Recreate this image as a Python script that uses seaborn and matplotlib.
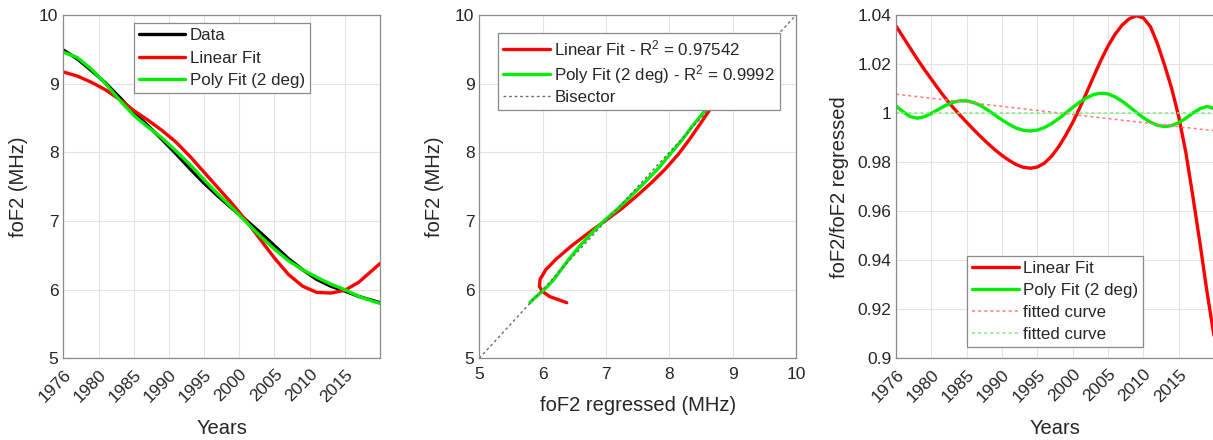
import matplotlib
matplotlib.use("Agg")
import matplotlib.pyplot as plt
import seaborn as sns
import pandas as pd
from matplotlib.ticker import FuncFormatter

# ---------------- data ----------------
years = [1975, 1977, 1979, 1981, 1983, 1985, 1987, 1989, 1991, 1993, 1995, 1997,
         1999, 2001, 2003, 2005, 2007, 2009, 2011, 2013, 2015, 2017, 2019, 2020]
fof2_data = [9.49, 9.36, 9.19, 9.01, 8.80, 8.58, 8.39, 8.19, 7.98, 7.76, 7.55, 7.36,
             7.18, 7.01, 6.83, 6.64, 6.45, 6.29, 6.15, 6.05, 5.98, 5.90, 5.84, 5.81]
fof2_linear = [9.17, 9.11, 9.02, 8.91, 8.77, 8.61, 8.47, 8.32, 8.15, 7.94, 7.71, 7.48,
               7.25, 7.00, 6.73, 6.46, 6.22, 6.05, 5.96, 5.95, 5.99, 6.11, 6.29, 6.38]
fof2_poly = [9.46, 9.38, 9.21, 9.00, 8.76, 8.54, 8.37, 8.21, 8.02, 7.82, 7.60, 7.39,
             7.19, 6.98, 6.78, 6.59, 6.42, 6.29, 6.18, 6.08, 6.00, 5.90, 5.83, 5.80]

ratio_years = list(range(1975, 2021))
ratio_linear = [1.0355, 1.0310, 1.0265, 1.0220, 1.0178, 1.0138, 1.0098, 1.0060, 1.0025, 0.9993,
                0.9962, 0.9932, 0.9903, 0.9876, 0.9850, 0.9827, 0.9807, 0.9790, 0.9779, 0.9775,
                0.9780, 0.9796, 0.9824, 0.9862, 0.9909, 0.9962, 1.0022, 1.0086, 1.0152, 1.0216,
                1.0274, 1.0322, 1.0359, 1.0385, 1.0397, 1.0388, 1.0352, 1.0282, 1.0195, 1.0100,
                0.9985, 0.9840, 0.9660, 0.9470, 0.9270, 0.9090]
ratio_poly = [1.0029, 1.0005, 0.9986, 0.9979, 0.9985, 0.9999, 1.0015, 1.0031, 1.0043, 1.0050,
              1.0050, 1.0043, 1.0030, 1.0012, 0.9992, 0.9972, 0.9954, 0.9939, 0.9930, 0.9927,
              0.9931, 0.9941, 0.9957, 0.9977, 1.0000, 1.0023, 1.0045, 1.0063, 1.0076, 1.0081,
              1.0078, 1.0066, 1.0048, 1.0026, 1.0003, 0.9981, 0.9963, 0.9950, 0.9945, 0.9949,
              0.9961, 0.9979, 1.0000, 1.0018, 1.0027, 1.0019]
fit_years = [1975, 2020]
fit_linear = [1.0077, 0.9928]
fit_poly = [1.0, 1.0]

bisector = [5, 10]

year_ticks = [1975, 1980, 1985, 1990, 1995, 2000, 2005, 2010, 2015]
year_tick_labels = ['1976', '1980', '1985', '1990', '1995', '2000', '2005', '2010', '2015']
mhz_ticks = [5, 6, 7, 8, 9, 10]
ratio_ticks = [0.9, 0.92, 0.94, 0.96, 0.98, 1.0, 1.02, 1.04]

r2_linear = '0.97542'
r2_poly = '0.9992'

# ---------------- style ----------------
sns.set_style("whitegrid", {
    "grid.color": "#e3e3e3",
    "axes.edgecolor": "#8a8a8a",
    "xtick.direction": "in",
    "ytick.direction": "in",
})
plt.rcParams['font.family'] = ['Liberation Sans', 'DejaVu Sans']
plt.rcParams['mathtext.default'] = 'regular'
plt.rcParams['xtick.color'] = '#8a8a8a'
plt.rcParams['ytick.color'] = '#8a8a8a'
plt.rcParams['xtick.labelcolor'] = '#262626'
plt.rcParams['ytick.labelcolor'] = '#262626'

RED = '#ff0000'
GREEN = '#00ee00'
LW = 2.4
TICK_FS = 12.5
LABEL_FS = 14.5
LEG_FS = 12.2
TXT = '#262626'

fig = plt.figure(figsize=(12.13, 4.40), dpi=100)
ax1 = fig.add_axes([0.0522, 0.1857, 0.2611, 0.7802])
ax2 = fig.add_axes([0.3951, 0.1857, 0.2611, 0.7802])
ax3 = fig.add_axes([0.7387, 0.1857, 0.2622, 0.7802])

df1 = pd.DataFrame({'year': years, 'data': fof2_data, 'lin': fof2_linear, 'poly': fof2_poly})
df3 = pd.DataFrame({'year': ratio_years, 'lin': ratio_linear, 'poly': ratio_poly})
dff = pd.DataFrame({'year': fit_years, 'lin': fit_linear, 'poly': fit_poly})


def style_axes(ax):
    for s in ax.spines.values():
        s.set_color('#8a8a8a')
        s.set_linewidth(0.9)
        s.set_visible(True)
    ax.grid(True, color='#e3e3e3', linewidth=0.8)
    ax.tick_params(axis='both', which='both', direction='in', length=4, width=0.8,
                   labelsize=TICK_FS, top=False, right=False)
    ax.tick_params(axis='x', pad=6)


def make_legend(ax, anchor, spacing):
    leg = ax.legend(loc='upper left', bbox_to_anchor=anchor, borderaxespad=0,
                    fontsize=LEG_FS, frameon=True, fancybox=False, framealpha=1,
                    edgecolor='#8a8a8a', handlelength=2.75, handletextpad=0.25,
                    borderpad=0.3, labelspacing=spacing)
    leg.get_frame().set_linewidth(0.9)
    leg.set_zorder(10)
    for t in leg.get_texts():
        t.set_color(TXT)
    return leg


# ---------- Panel 1 ----------
sns.lineplot(data=df1, x='year', y='data', ax=ax1, color='black', lw=LW, label='Data')
sns.lineplot(data=df1, x='year', y='lin', ax=ax1, color=RED, lw=LW, label='Linear Fit')
sns.lineplot(data=df1, x='year', y='poly', ax=ax1, color=GREEN, lw=LW, label='Poly Fit (2 deg)')
ax1.set_xlim(1975, 2020)
ax1.set_ylim(5, 10)
ax1.set_xticks(year_ticks)
ax1.set_xticklabels(year_tick_labels, rotation=45, ha='right', rotation_mode='anchor')
ax1.set_yticks(mhz_ticks)
ax1.set_xlabel('Years', fontsize=LABEL_FS, color=TXT, labelpad=10)
ax1.set_ylabel('foF2 (MHz)', fontsize=LABEL_FS, color=TXT, labelpad=8)
style_axes(ax1)
make_legend(ax1, (0.222, 0.977), 0.45)

# ---------- Panel 2 ----------
sns.lineplot(data=df1, x='lin', y='data', ax=ax2, color=RED, lw=LW, sort=False,
             label='Linear Fit - R$^2$ = ' + r2_linear)
sns.lineplot(data=df1, x='poly', y='data', ax=ax2, color=GREEN, lw=LW, sort=False,
             label='Poly Fit (2 deg) - R$^2$ = ' + r2_poly)
sns.lineplot(x=bisector, y=bisector, ax=ax2, color='#6e6e6e', lw=1.0,
             linestyle=(0, (2, 2)), label='Bisector')
ax2.set_xlim(5, 10)
ax2.set_ylim(5, 10)
ax2.set_xticks(mhz_ticks)
ax2.set_yticks(mhz_ticks)
ax2.set_xlabel('foF2 regressed (MHz)', fontsize=LABEL_FS, color=TXT, labelpad=10)
ax2.set_ylabel('foF2 (MHz)', fontsize=LABEL_FS, color=TXT, labelpad=8)
style_axes(ax2)
make_legend(ax2, (0.06, 0.9475), 0.28)

# ---------- Panel 3 ----------
sns.lineplot(data=df3, x='year', y='lin', ax=ax3, color=RED, lw=LW, label='Linear Fit')
sns.lineplot(data=df3, x='year', y='poly', ax=ax3, color=GREEN, lw=LW, label='Poly Fit (2 deg)')
sns.lineplot(data=dff, x='year', y='lin', ax=ax3, color='#ff7a7a', lw=1.1,
             linestyle=(0, (2, 2)), label='fitted curve')
sns.lineplot(data=dff, x='year', y='poly', ax=ax3, color='#7aee7a', lw=1.1,
             linestyle=(0, (2, 2)), label='fitted curve')
ax3.set_xlim(1975, 2020)
ax3.set_ylim(0.9, 1.04)
ax3.set_xticks(year_ticks)
ax3.set_xticklabels(year_tick_labels, rotation=45, ha='right', rotation_mode='anchor')
ax3.set_yticks(ratio_ticks)
ax3.yaxis.set_major_formatter(FuncFormatter(lambda v, p: f'{v:g}'))
ax3.set_xlabel('Years', fontsize=LABEL_FS, color=TXT, labelpad=10)
ax3.set_ylabel('foF2/foF2 regressed', fontsize=LABEL_FS, color=TXT, labelpad=6)
style_axes(ax3)
make_legend(ax3, (0.2226, 0.2974), 0.4)

fig.savefig('out.png', dpi=100)
